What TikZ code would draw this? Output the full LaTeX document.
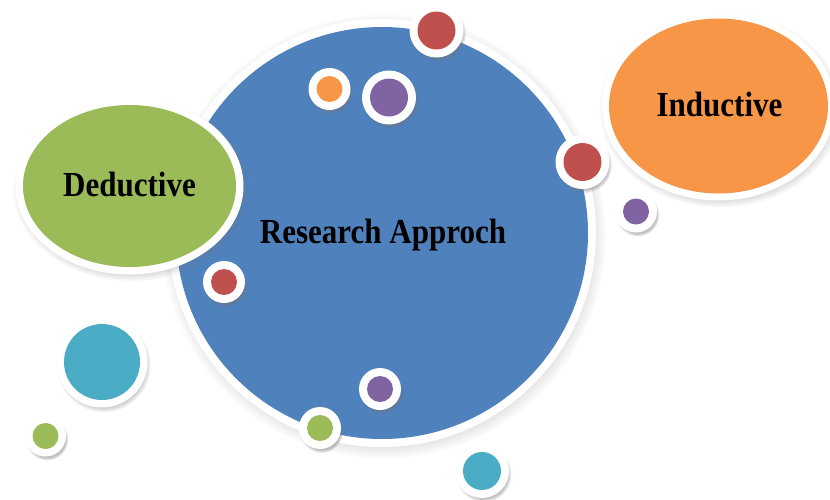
\documentclass[tikz,border=0pt]{standalone}
\usepackage{fontspec}
\usepackage{graphicx}
\setmainfont{Liberation Serif}
\usetikzlibrary{shapes.geometric,shadows,fadings}
\definecolor{cblue}{HTML}{4F81BD}
\definecolor{cgreen}{HTML}{9BBB59}
\definecolor{corange}{HTML}{F79646}
\definecolor{cred}{HTML}{C0504D}
\definecolor{cpurple}{HTML}{8064A2}
\definecolor{cteal}{HTML}{4BACC6}
\newcommand{\tallbox}[1]{\scalebox{0.97}[1.1]{#1}}
\tikzset{
  softshadow/.style={circular drop shadow={shadow xshift=1.5pt, shadow yshift=-3pt, shadow scale=1.04, opacity=0.45, fill=black!55}},
  bubble/.style n args={3}{circle, inner sep=0pt, outer sep=0pt, fill=white, minimum size=#1, softshadow,
    path picture={\fill[#3] (path picture bounding box.center) circle[radius=#2];}},
  lbl/.style={font=\bfseries\fontsize{32}{36}\selectfont, text=black, anchor=base, inner sep=0pt},
}
\begin{document}
\begin{tikzpicture}[x=1pt,y=-1pt]
\useasboundingbox (0,0) rectangle (830,499);
% big shapes
\node[bubble={428pt}{206pt}{cblue}] (blue) at (382,233) {};
\node[ellipse, inner sep=0pt, outer sep=0pt, fill=white, minimum width=228pt, minimum height=177pt, softshadow,
  path picture={\fill[cgreen] (path picture bounding box.center) ellipse[x radius=106.5pt, y radius=81pt];}] (green) at (129.5,186) {};
\node[ellipse, inner sep=0pt, outer sep=0pt, fill=white, minimum width=233pt, minimum height=189pt, softshadow,
  path picture={\fill[corange] (path picture bounding box.center) ellipse[x radius=109.5pt, y radius=87.5pt];}] (orange) at (718.5,106) {};
% small bubbles
\node[bubble={54pt}{19pt}{cred}] (rT) at (436.5,30.5) {};
\node[bubble={42pt}{13pt}{corange}] (oS) at (329.5,89) {};
\node[bubble={54pt}{19pt}{cpurple}] (pT) at (389,97.5) {};
\node[bubble={54pt}{19pt}{cred}] (rR) at (582.5,162) {};
\node[bubble={42pt}{13pt}{cpurple}] (pR) at (636,211.5) {};
\node[bubble={42pt}{13pt}{cred}] (rL) at (224,282) {};
\node[bubble={91pt}{38pt}{cteal}] (tL) at (102,362) {};
\node[bubble={42pt}{13pt}{cpurple}] (pB) at (380,389) {};
\node[bubble={42pt}{13pt}{cgreen}] (gB) at (320,428) {};
\node[bubble={41pt}{13pt}{cgreen}] (gL) at (45.5,436) {};
\node[bubble={54pt}{19pt}{cteal}] (tB) at (482,471) {};
% labels
\node[lbl] (tR) at (383,243) {\tallbox{Research Approch}};
\node[lbl] (tD) at (129.5,196) {\tallbox{Deductive}};
\node[lbl] (tI) at (719.5,116) {\tallbox{Inductive}};
\end{tikzpicture}
\end{document}
